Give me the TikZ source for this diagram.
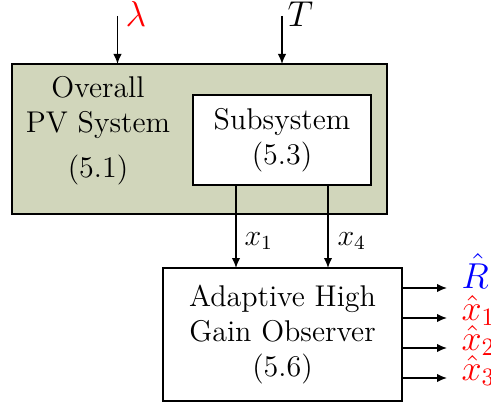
\documentclass[tikz,border=0pt]{standalone}
\usetikzlibrary{arrows.meta}
\definecolor{pvfill}{RGB}{209,214,187}
\begin{document}
\begin{tikzpicture}[x=0.4pt,y=-0.4pt,
  every node/.style={font=\large},
  boxnode/.style={draw,line width=0.7pt,inner sep=0pt,outer sep=0pt,align=center},
  arr/.style={line width=0.6pt,-{Latex[length=4pt,width=3.4pt]}},
  lbl/.style={inner sep=0pt,anchor=base west},
  biglbl/.style={lbl,font=\Large}]
\useasboundingbox (0,0) rectangle (491,406);
% boxes
\node[boxnode,fill=pvfill,minimum width=150pt,minimum height=60pt] (pv) at (199.5,139) {};
\node[align=center,inner sep=0pt] (pvtext) at (98,131) {Overall\\PV System\\[4pt](5.1)};
\node[boxnode,fill=white,minimum width=71.2pt,minimum height=36pt] (sub) at (282,140) {Subsystem\\(5.3)};
\node[boxnode,fill=white,minimum width=95.6pt,minimum height=53.2pt] (obs) at (282.5,334.5) {Adaptive High\\Gain Observer\\(5.6)};
% inputs
\coordinate (lam) at (117.5,16);
\coordinate (tt) at (282,16);
\draw[arr] (lam) -- (lam |- pv.north);
\draw[arr] (tt) -- (tt |- pv.north);
\node[biglbl,text=red] (lamlbl) at (125,27) {$\lambda$};
\node[biglbl] (tlbl) at (287,27) {$T$};
% measured
\coordinate (c1) at (236,0);
\coordinate (c4) at (328,0);
\draw[arr] (sub.south -| c1) -- (obs.north -| c1);
\draw[arr] (sub.south -| c4) -- (obs.north -| c4);
\node[lbl] (x1lbl) at (244,245) {$x_1$};
\node[lbl] (x4lbl) at (337,245) {$x_4$};
% outputs
\coordinate (o1) at (447,288);
\coordinate (o2) at (447,318);
\coordinate (o3) at (447,348);
\coordinate (o4) at (447,378);
\draw[arr] (obs.east |- o1) -- (o1);
\draw[arr] (obs.east |- o2) -- (o2);
\draw[arr] (obs.east |- o3) -- (o3);
\draw[arr] (obs.east |- o4) -- (o4);
\node[biglbl,text=blue] (rlbl) at (461,288) {$\hat{R}$};
\node[biglbl,text=red] (xh1) at (461,320) {$\hat{x}_1$};
\node[biglbl,text=red] (xh2) at (461,350) {$\hat{x}_2$};
\node[biglbl,text=red] (xh3) at (461,380) {$\hat{x}_3$};
\end{tikzpicture}
\end{document}
